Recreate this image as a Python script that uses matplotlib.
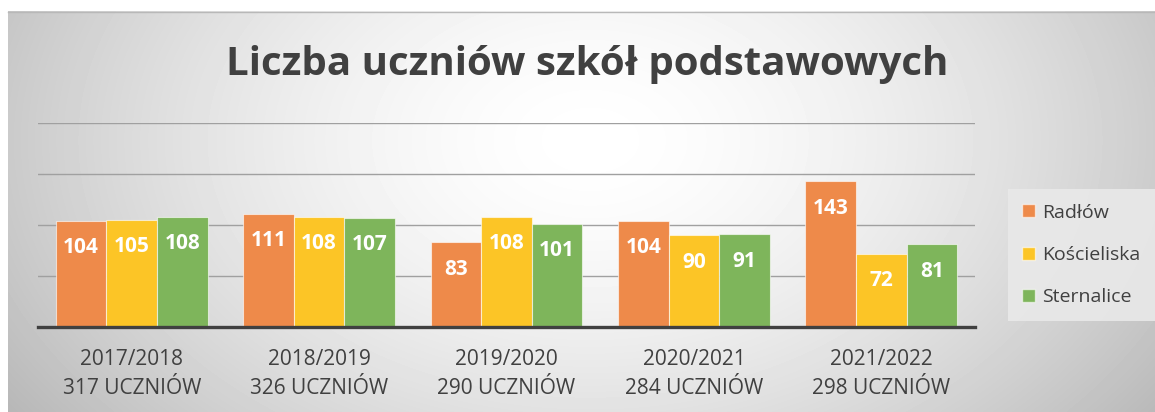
import numpy as np
import matplotlib.pyplot as plt
from matplotlib.patches import Patch

plt.rcParams['font.family'] = ['Open Sans', 'DejaVu Sans']

# data
years = ['2017/2018', '2018/2019', '2019/2020', '2020/2021', '2021/2022']
totals = ['317 UCZNIÓW', '326 UCZNIÓW', '290 UCZNIÓW', '284 UCZNIÓW', '298 UCZNIÓW']
schools = ['Radłów', 'Kościeliska', 'Sternalice']
radlow = [104, 111, 83, 104, 143]
koscieliska = [105, 108, 108, 90, 72]
sternalice = [108, 107, 101, 91, 81]
colors = ['#EE8A4A', '#FCC526', '#7EB55B']

W, H = 1155, 412
fig = plt.figure(figsize=(W / 100, H / 100), dpi=100)

# background with radial gradient
bg = fig.add_axes([0, 0, 1, 1])
bg.set_xlim(0, W)
bg.set_ylim(H, 0)
bg.axis('off')
xx, yy = np.meshgrid(np.arange(8, W), np.arange(11, H))
r = np.sqrt(((xx - 590) / 640.0) ** 2 + ((yy - 140) / 430.0) ** 2)
g = 1 - 0.24 * np.clip(r, 0, 1.15) ** 1.6
bg.imshow(g, cmap='gray', vmin=0, vmax=1, extent=(8, W, H, 11), aspect='auto')
bg.plot([8, W], [11.5, 11.5], color='#b8b8b8', lw=1)

ax = fig.add_axes([38 / W, (H - 327) / H, 937 / W, (327 - 123) / H])
ax.patch.set_alpha(0)
x = np.arange(len(years))
bw = 0.27
series = [radlow, koscieliska, sternalice]
for j, vals in enumerate(series):
    bars = ax.bar(x + (j - 1) * bw, vals, bw, color=colors[j],
                  edgecolor=(1, 1, 1, 0.6), linewidth=0.8, zorder=3)
    for b, v in zip(bars, vals):
        ax.annotate(str(v), (b.get_x() + b.get_width() / 2, v),
                    xytext=(0, -27), textcoords='offset pixels',
                    ha='center', va='center', color='white',
                    fontsize=15, fontweight='bold', zorder=4)

ax.set_xlim(-0.5, len(years) - 0.5)
ax.set_ylim(0, 200)
ax.set_yticks([50, 100, 150, 200])
ax.yaxis.grid(True, color='#a0a0a0', lw=1, zorder=0)
ax.tick_params(axis='y', length=0, labelleft=False)
ax.tick_params(axis='x', length=0, pad=16)
ax.set_xticks(x)
ax.set_xticklabels([f'{a}\n{b}' for a, b in zip(years, totals)],
                   fontsize=15, color='#404040', linespacing=1.5)
for s in ['top', 'right', 'left']:
    ax.spines[s].set_visible(False)
ax.spines['bottom'].set_color('#404040')
ax.spines['bottom'].set_linewidth(2.4)
ax.spines['bottom'].set_zorder(5)

fig.text(587 / W, 1 - 65 / H, 'Liczba uczniów szkół podstawowych',
         ha='center', va='center', fontsize=29, fontweight='bold', color='#404040')

handles = [Patch(facecolor=c, edgecolor=(1, 1, 1, 0.6)) for c in colors]
leg = fig.legend(handles, schools, loc='center left',
                 bbox_to_anchor=(998 / W, 1 - 255 / H), frameon=True,
                 fontsize=14, labelspacing=1.25, handlelength=0.65,
                 handleheight=0.65, handletextpad=0.35, borderpad=0.75,
                 fancybox=False, labelcolor='#404040')
leg.get_frame().set_facecolor('#e9e9e9')
leg.get_frame().set_edgecolor('none')
leg.get_frame().set_alpha(0.9)

fig.savefig('out.png', dpi=100)
